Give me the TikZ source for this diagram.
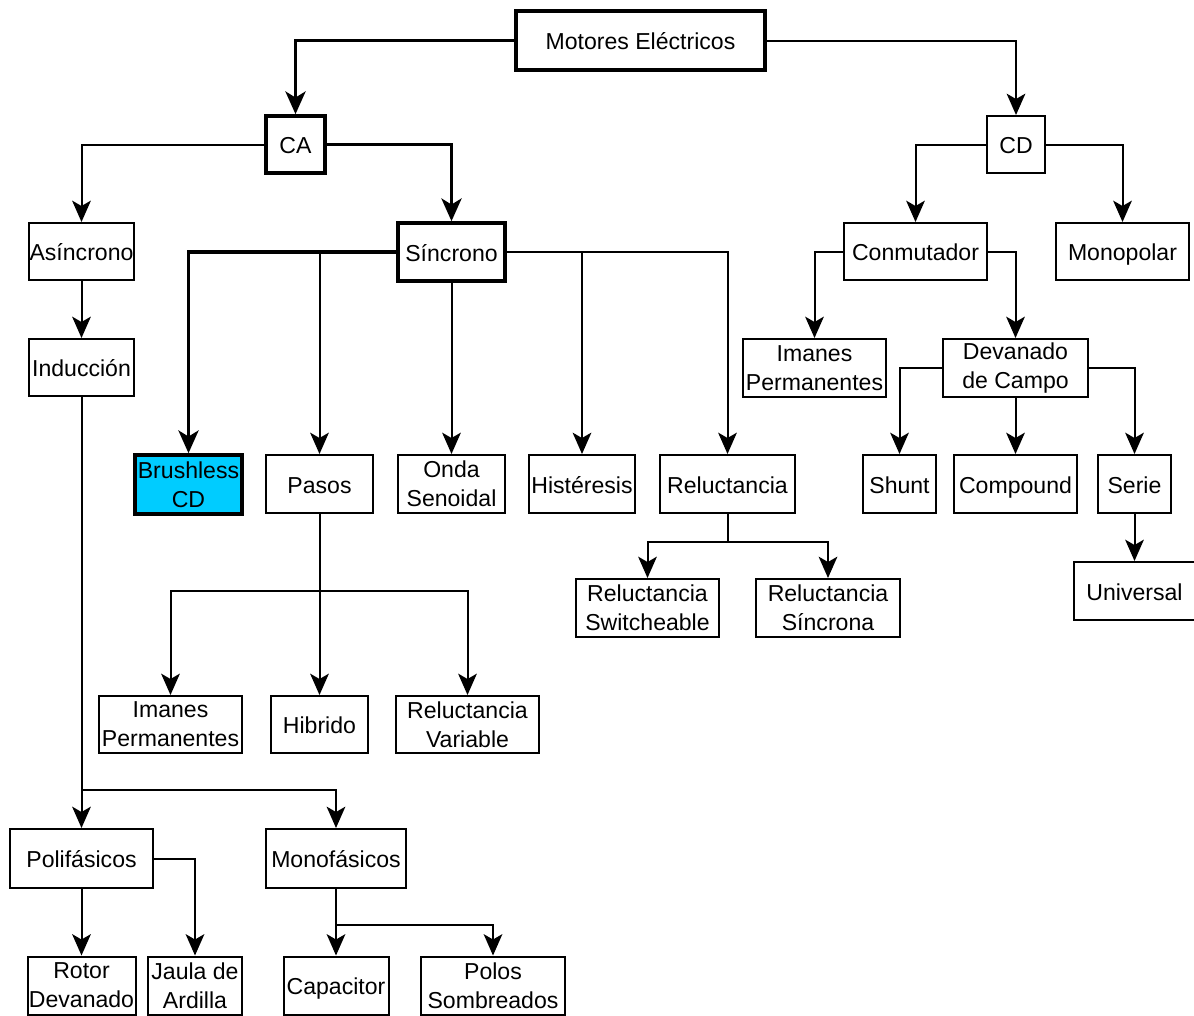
\documentclass[tikz,border=0pt]{standalone}
\usepackage{fontspec}
\setmainfont{Liberation Sans}
\usepackage{tikz}
\usetikzlibrary{positioning}
\usetikzlibrary{arrows.meta}
\definecolor{brushcyan}{HTML}{00CCFF}
\tikzset{box/.style={draw, line width=1.5pt, inner sep=0pt, minimum height=43.5pt, align=center, font=\fontsize{17.3}{21.75}\selectfont}}
\tikzset{one/.style={box, text height=15.5pt, text depth=2pt}}
\tikzset{boldbox/.style={box, line width=2.7pt}}
\tikzset{conn/.style={line width=1.5pt, -{Stealth[length=16pt,width=14pt,inset=4pt]}}}
\tikzset{boldconn/.style={line width=2.7pt, -{Stealth[length=17pt,width=15pt,inset=4.5pt]}}}
\tikzset{plain/.style={line width=1.5pt}}

\begin{document}
\begin{tikzpicture}[x=0.75pt,y=-0.75pt]
\useasboundingbox (0,0) rectangle (1194,1015);
% nivel 0 y 1
\node[one, boldbox, minimum width=186.75pt, minimum height=44.25pt] (mot) at (640.5,40.5) {Motores Eléctricos};
\node[one, boldbox, minimum width=44.25pt, minimum height=42.75pt] (ca) at (295.5,144.5) {CA};
\node[one, minimum width=43.5pt, minimum height=42.75pt] (cd) at (1016,144.5) {CD};
% nivel 2
\node[one, minimum width=78.75pt, minimum height=42.75pt] (asin) at (81.5,251.5) {Asíncrono};
\node[one, boldbox, minimum width=80.25pt] (sin) at (451.5,252) {Síncrono};
\node[one, minimum width=107.25pt, minimum height=42.75pt] (conm) at (915.5,251.5) {Conmutador};
\node[one, minimum width=99.75pt, minimum height=42.75pt] (monop) at (1122.5,251.5) {Monopolar};
% nivel 3
\node[one, minimum width=78.75pt, minimum height=42.75pt] (ind) at (81.5,367.5) {Inducción};
\node[box, minimum width=107.25pt] (imcd) at (814.5,368) {Imanes\\Permanentes};
\node[box, minimum width=108.75pt] (dev) at (1015.5,368) {Devanado\\de Campo};
% nivel 4
\node[boldbox, fill=brushcyan, minimum width=80.25pt, minimum height=44.25pt] (bl) at (188.5,484.5) {Brushless\\CD};
\node[one, minimum width=80.25pt] (pasos) at (319.5,484) {Pasos};
\node[box, minimum width=80.25pt] (onda) at (451.5,484) {Onda\\Senoidal};
\node[one, minimum width=79.5pt] (hist) at (582,484) {Histéresis};
\node[one, minimum width=101.25pt] (rel) at (727.5,484) {Reluctancia};
\node[one, minimum width=54.75pt] (shunt) at (899.5,484) {Shunt};
\node[one, minimum width=92.25pt] (comp) at (1015.5,484) {Compound};
\node[one, minimum width=54.75pt] (serie) at (1134.5,484) {Serie};
% nivel 5
\node[box, minimum width=107.25pt] (rels) at (647.5,608) {Reluctancia\\Switcheable};
\node[box, minimum width=108pt] (relsin) at (828,608) {Reluctancia\\Síncrona};
\node[one, minimum width=90.75pt] (univ) at (1134.5,591) {Universal};
\node[box, minimum width=107.25pt, minimum height=42.75pt] (imp) at (170.5,724.5) {Imanes\\Permanentes};
\node[one, minimum width=72.75pt, minimum height=42.75pt] (hib) at (319.5,724.5) {Hibrido};
\node[box, minimum width=107.25pt, minimum height=42.75pt] (relv) at (467.5,724.5) {Reluctancia\\Variable};
% induccion
\node[one, minimum width=107.25pt, minimum height=44.25pt] (poli) at (81.5,858.5) {Polifásicos};
\node[one, minimum width=105pt, minimum height=44.25pt] (mono) at (336,858.5) {Monofásicos};
\node[box, minimum width=81pt] (rotor) at (81.5,985.5) {Rotor\\Devanado};
\node[box, minimum width=70.5pt] (jaula) at (195,985.5) {Jaula de\\Ardilla};
\node[one, minimum width=78.75pt] (capac) at (336,985.5) {Capacitor};
\node[box, minimum width=108pt] (polos) at (493,985.5) {Polos\\Sombreados};
\coordinate (indj) at (81.5,790);
\coordinate (pasj) at (319.5,591);
\coordinate (relj) at (727.5,542);
\coordinate (monoj) at (336,925);

\draw[boldconn] (mot.west) -| (ca.north);
\draw[conn] (mot.east) -| (cd.north);
\draw[conn] (ca.west) -| (asin.north);
\draw[boldconn] (ca.east) -| (sin.north);
\draw[boldconn] (sin.west) -| (bl.north);
\draw[conn] (pasos.north |- sin.west) -- (pasos.north);
\draw[conn] (sin.south) -- (onda.north);
\draw[conn] (hist.north |- sin.east) -- (hist.north);
\draw[conn] (sin.east) -| (rel.north);
\draw[conn] (asin.south) -- (ind.north);
\draw[conn] (ind.south) -- (poli.north);
\draw[conn] (indj) -| (mono.north);
\draw[plain] (pasos.south) -- (pasj);
\draw[conn] (pasj) -| (imp.north);
\draw[conn] (pasj) -- (hib.north);
\draw[conn] (pasj) -| (relv.north);
\draw[plain] (rel.south) -- (relj);
\draw[conn] (relj) -| (rels.north);
\draw[conn] (relj) -| (relsin.north);
\draw[conn] (cd.west) -| (conm.north);
\draw[conn] (cd.east) -| (monop.north);
\draw[conn] (conm.west) -| (imcd.north);
\draw[conn] (conm.east) -| (dev.north);
\draw[conn] (dev.west) -| (shunt.north);
\draw[conn] (dev.south) -- (comp.north);
\draw[conn] (dev.east) -| (serie.north);
\draw[conn] (serie.south) -- (univ.north);
\draw[conn] (poli.south) -- (rotor.north);
\draw[conn] (poli.east) -| (jaula.north);
\draw[conn] (mono.south) -- (capac.north);
\draw[conn] (monoj) -| (polos.north);
\end{tikzpicture}
\end{document}
